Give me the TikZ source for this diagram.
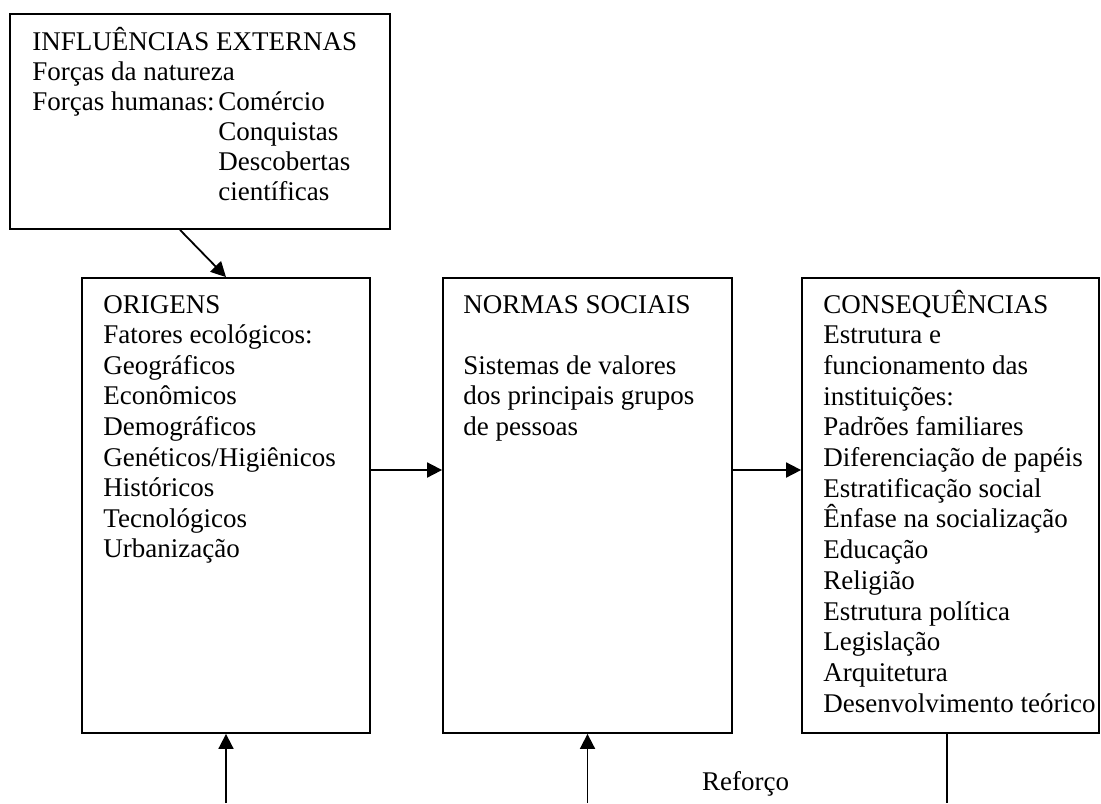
\documentclass[tikz,border=0pt]{standalone}
\usepackage{fontspec}
\setmainfont{Liberation Serif}
\usetikzlibrary{arrows.meta}
\begin{document}
\begin{tikzpicture}[x=0.5pt,y=-0.5pt,
  box/.style={draw, line width=0.9pt, inner sep=0pt},
  txt/.style={anchor=base west, inner sep=0pt, font=\fontsize{13.5pt}{15pt}\selectfont},
  arr/.style={line width=0.9pt, -{Triangle[length=7.5pt,width=7.5pt]}},
  link/.style={line width=0.9pt}]
\useasboundingbox (0,0) rectangle (1101,803);

% boxes
\node[box, minimum width=190pt, minimum height=107.5pt] (ext) at (200,121.5) {};
\node[box, minimum width=144pt, minimum height=227.5pt] (orig) at (226,505.5) {};
\node[box, minimum width=144.5pt, minimum height=227.5pt] (norm) at (587.5,505.5) {};
\node[box, minimum width=148.5pt, minimum height=227.5pt] (cons) at (950.5,505.5) {};

% external influences
\node[txt] (ext-0) at (32,50) {INFLUÊNCIAS EXTERNAS};
\node[txt] (ext-1) at (32,80) {Forças da natureza};
\node[txt] (ext-2) at (32,110) {Forças humanas:};
\foreach \t [count=\i from 0] in {Comércio, Conquistas, Descobertas, científicas}
  \node[txt] (hum-\i) at (218,{110+30*\i}) {\t};

% origins
\foreach \t [count=\i from 0] in {ORIGENS, Fatores ecológicos:, Geográficos, Econômicos,
    Demográficos, Genéticos/Higiênicos, Históricos, Tecnológicos, Urbanização}
  \node[txt] (orig-\i) at (103,{313+30.6*\i}) {\t};

% social norms
\node[txt] (norm-0) at (463,313) {NORMAS SOCIAIS};
\foreach \t [count=\i from 2] in {Sistemas de valores, dos principais grupos, de pessoas}
  \node[txt] (norm-\i) at (463,{313+30.6*\i}) {\t};

% consequences
\foreach \t [count=\i from 0] in {CONSEQUÊNCIAS, Estrutura e, funcionamento das, instituições:,
    Padrões familiares, Diferenciação de papéis, Estratificação social,
    Ênfase na socialização, Educação, Religião, Estrutura política, Legislação,
    Arquitetura, Desenvolvimento teórico}
  \node[txt] (cons-\i) at (823,{313+30.7*\i}) {\t};

% connectors
\coordinate (row) at (0,470);
\coordinate (b1) at (226,803);
\coordinate (b2) at (587.5,803);
\coordinate (b3) at (947,803);

\draw[arr] ([xshift=-10pt]ext.south) -- (orig.north);
\draw[arr] (orig.east |- row) -- (norm.west |- row);
\draw[arr] (norm.east |- row) -- (cons.west |- row);
\draw[arr] (b1) -- (orig.south);
\draw[arr] (b2) -- (norm.south);
\draw[link] (cons.south -| b3) -- (b3);

\node[txt, anchor=base] (ref) at (745.5,790) {Reforço};
\end{tikzpicture}
\end{document}
